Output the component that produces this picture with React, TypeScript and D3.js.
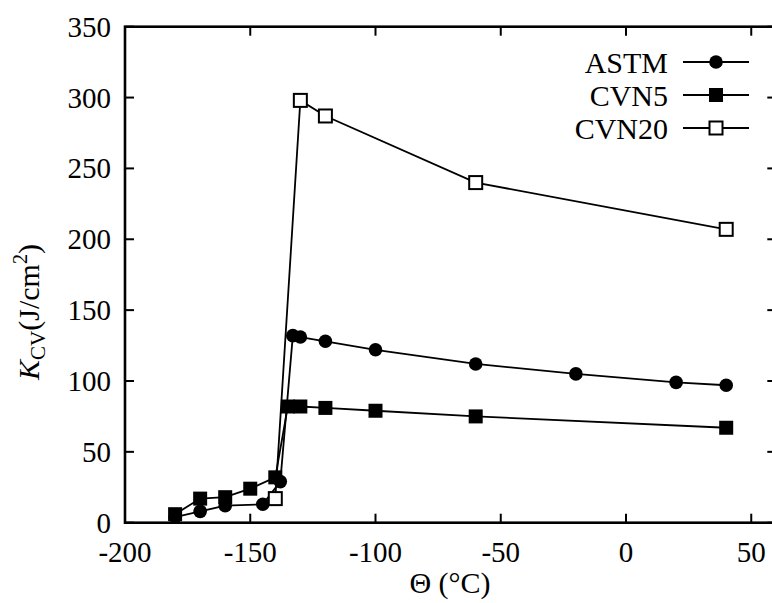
import React from "react";
import * as d3 from "d3";

const astmT = [-180, -170, -160, -145, -138, -133, -130, -120, -100, -60, -20, 20, 40];
const astmK = [4, 8, 12, 13, 29, 132, 131, 128, 122, 112, 105, 99, 97];
const cvn5T = [-180, -170, -160, -150, -140, -135, -130, -120, -100, -60, 40];
const cvn5K = [6, 17, 18, 24, 32, 82, 82, 81, 79, 75, 67];
const cvn20T = [-140, -130, -120, -60, 40];
const cvn20K = [17, 298, 287, 240, 207];

const xTicks = [-200, -150, -100, -50, 0, 50];
const yTicks = [0, 50, 100, 150, 200, 250, 300, 350];
const legendNames = ["ASTM", "CVN5", "CVN20"];

const W = 772;
const H = 603;
const FONT = "'Liberation Serif', 'DejaVu Serif', serif";

export default function App() {
  const x = d3.scaleLinear().domain([-200, 60]).range([125, 776.3]);
  const y = d3.scaleLinear().domain([0, 350]).range([522.7, 26.7]);
  const line = d3
    .line<[number, number]>()
    .x((d) => x(d[0]))
    .y((d) => y(d[1]));

  const astm: [number, number][] = astmT.map((t, i) => [t, astmK[i]]);
  const cvn5: [number, number][] = cvn5T.map((t, i) => [t, cvn5K[i]]);
  const cvn20: [number, number][] = cvn20T.map((t, i) => [t, cvn20K[i]]);

  const [x0, x1] = x.range();
  const [y0, y1] = y.range();
  const tickLen = 9;

  const circle = (cx: number, cy: number, k: string) => (
    <circle key={k} cx={cx} cy={cy} r={6.8} fill="#000" />
  );
  const fsq = (cx: number, cy: number, k: string) => (
    <rect key={k} x={cx - 7} y={cy - 7} width={14} height={14} fill="#000" />
  );
  const osq = (cx: number, cy: number, k: string) => (
    <rect key={k} x={cx - 6.5} y={cy - 6.5} width={13} height={13} fill="#fff" stroke="#000" strokeWidth={2} />
  );

  const legendY = [62, 95, 128];
  const markers = [circle, fsq, osq];
  const ts = { fontFamily: FONT };

  return (
    <svg
      width={W}
      height={H}
      style={{ position: "absolute", left: 0, top: 0, background: "#fff", fontFamily: FONT }}
    >
      <rect x={0} y={0} width={W} height={H} fill="#fff" />
      <path d={line(cvn20) || ""} fill="none" stroke="#000" strokeWidth={1.8} />
      <path d={line(astm) || ""} fill="none" stroke="#000" strokeWidth={1.8} />
      <path d={line(cvn5) || ""} fill="none" stroke="#000" strokeWidth={1.8} />
      {astm.map((d, i) => circle(x(d[0]), y(d[1]), "a" + i))}
      {cvn5.map((d, i) => fsq(x(d[0]), y(d[1]), "c" + i))}
      {cvn20.map((d, i) => osq(x(d[0]), y(d[1]), "o" + i))}

      <rect x={x0} y={y1} width={x1 - x0} height={y0 - y1} fill="none" stroke="#000" strokeWidth={2.6} />
      {xTicks.map((t) => (
        <g key={"xt" + t}>
          <line x1={x(t)} x2={x(t)} y1={y0} y2={y0 - tickLen} stroke="#000" strokeWidth={2} />
          <line x1={x(t)} x2={x(t)} y1={y1} y2={y1 + tickLen} stroke="#000" strokeWidth={2} />
          <text x={x(t)} y={562} fontSize={29} textAnchor="middle" style={ts}>
            {t}
          </text>
        </g>
      ))}
      {yTicks.map((t) => (
        <g key={"yt" + t}>
          <line x1={x0} x2={x0 + tickLen} y1={y(t)} y2={y(t)} stroke="#000" strokeWidth={2} />
          <line x1={x1} x2={x1 - tickLen} y1={y(t)} y2={y(t)} stroke="#000" strokeWidth={2} />
          <text x={111} y={y(t) + 10} fontSize={29} textAnchor="end" style={ts}>
            {t}
          </text>
        </g>
      ))}

      {legendNames.map((n, i) => (
        <g key={n}>
          <text x={668} y={legendY[i] + 10.5} fontSize={30} textAnchor="end" style={ts}>
            {n}
          </text>
          <line x1={683} x2={749} y1={legendY[i]} y2={legendY[i]} stroke="#000" strokeWidth={1.8} />
          {markers[i](716, legendY[i], "lm" + i)}
        </g>
      ))}

      <text x={450} y={593} fontSize={30} textAnchor="middle" style={ts}>
        Θ (°C)
      </text>
      <text transform="translate(39,312) rotate(-90)" fontSize={30} textAnchor="middle" style={ts}>
        <tspan fontStyle="italic">K</tspan>
        <tspan fontSize={21} dy={6}>CV</tspan>
        <tspan dy={-6}>(J/cm</tspan>
        <tspan fontSize={20} dy={-12}>2</tspan>
        <tspan dy={12}>)</tspan>
      </text>
    </svg>
  );
}
